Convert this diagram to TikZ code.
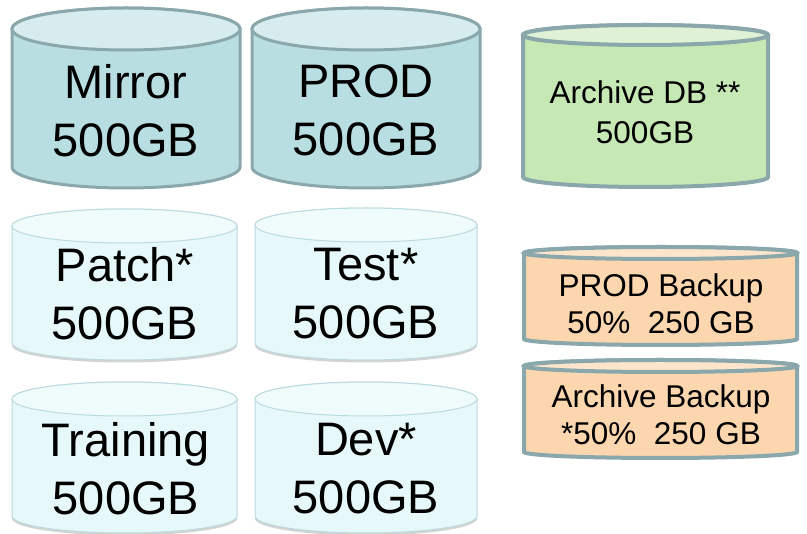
\documentclass[tikz,border=0pt]{standalone}
\usepackage{fontspec}
\setmainfont{Liberation Sans}
\usetikzlibrary{shadows}

\definecolor{tealline}{HTML}{8AA8AB}
\definecolor{tealbody}{HTML}{B8DEE2}
\definecolor{tealtop}{HTML}{D7ECEF}
\definecolor{iceline}{HTML}{BCDADE}
\definecolor{icebody}{HTML}{E6F8FA}
\definecolor{icetop}{HTML}{F0FBFC}
\definecolor{greenbody}{HTML}{C6E8B4}
\definecolor{greentop}{HTML}{DFF2D5}
\definecolor{peachbody}{HTML}{FCD6AF}
\definecolor{peachtop}{HTML}{FDE5CC}

\tikzstyle{dark} = [draw=tealline, line width=3pt, fill=tealbody]
\tikzstyle{darktop} = [draw=tealline, line width=3pt, fill=tealtop]
\tikzstyle{light} = [draw=iceline, line width=1pt, fill=icebody,
   drop shadow={shadow xshift=0pt, shadow yshift=-2.5pt, opacity=.35, fill=gray}]
\tikzstyle{lighttop} = [draw=iceline, line width=1pt, fill=icetop]
\tikzstyle{green} = [draw=tealline, line width=4pt, fill=greenbody]
\tikzstyle{greentop} = [draw=tealline, line width=4pt, fill=greentop]
\tikzstyle{peach} = [draw=tealline, line width=4pt, fill=peachbody]
\tikzstyle{peachtop} = [draw=tealline, line width=4pt, fill=peachtop]
\tikzstyle{big} = [align=center, font=\fontsize{47}{58}\selectfont]
\tikzstyle{small} = [align=center, font=\fontsize{31.5}{37}\selectfont]

% center x, top y, bottom y, x radius, y radius, body style, top style
\newcommand{\drum}[7]{%
  \path[#6] (#1-#4,#2) -- (#1-#4,#3)
    arc[start angle=180, end angle=360, x radius=#4, y radius=#5]
    -- (#1+#4,#2)
    arc[start angle=0, end angle=180, x radius=#4, y radius=#5] -- cycle;
  \path[#7] (#1,#2) ellipse[x radius=#4, y radius=#5];
}

\begin{document}
\begin{tikzpicture}[x=1pt,y=1pt]

\useasboundingbox (0,0) rectangle (807,-534);

%\draw[help lines,step=50] (0,0) grid (807,-534);

% main databases
\drum{126}{-29}{-167}{114}{21}{dark}{darktop}
\drum{366}{-29}{-167}{114}{21}{dark}{darktop}

% copies
\drum{124.5}{-226}{-343}{112.5}{17}{light}{lighttop}
\drum{366}{-225}{-343}{111}{17}{light}{lighttop}
\drum{124.5}{-399}{-516}{112.5}{17}{light}{lighttop}
\drum{366}{-399}{-516}{111}{17}{light}{lighttop}

% archive and backups
\drum{645.5}{-35}{-177}{122.5}{10}{green}{greentop}
\drum{660.5}{-253}{-339}{136.5}{6}{peach}{peachtop}
\drum{660.5}{-366}{-452}{136.5}{6}{peach}{peachtop}

\node[big] (mirror) at (126,-111) {Mirror\\500GB};
\node[big] (prod) at (366,-110) {PROD\\500GB};
\node[big] (patch) at (125,-294) {Patch*\\500GB};
\node[big] (test) at (366,-294) {Test*\\500GB};
\node[big] (training) at (126,-469) {Training\\500GB};
\node[big] (dev) at (366,-469) {Dev*\\500GB};

\node[small, font=\fontsize{31.5}{40}\selectfont] (archdb) at (645,-112) {Archive DB **\\500GB};
\node[small] (prodbak) at (661,-303.5) {PROD Backup\\50\%\ \ 250 GB};
\node[small] (archbak) at (661,-415) {Archive Backup\\*50\%\ \ 250 GB};

\end{tikzpicture}
\end{document}
